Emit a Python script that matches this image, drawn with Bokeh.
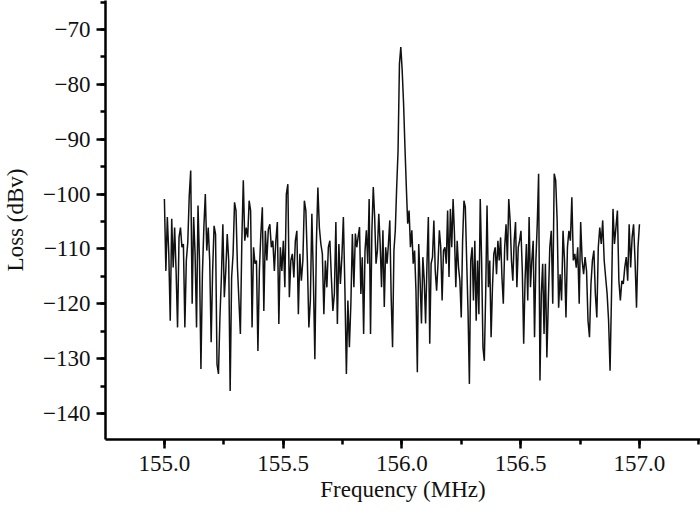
import numpy as np
from bokeh.plotting import figure
from bokeh.models import Range1d, SingleIntervalTicker, CustomJSTickFormatter, ColumnDataSource
from bokeh.embed import file_html
from bokeh.resources import INLINE

# Segment edges (MHz) of the read-off pieces of the trace
segment_edges_mhz = [155.0, 155.406, 155.804, 156.204, 156.604, 157.0]

# Loss values (dBV), piece by piece
loss_seg1 = [-100.9, -114.0, -104.2, -110.9, -123.1, -104.5, -113.4, -106.1, -114.0, -124.3,
             -107.9, -106.1, -109.7, -109.1, -124.3, -112.1, -108.8, -100.3, -95.7, -120.0,
             -104.2, -110.9, -124.3, -102.1, -112.1, -131.9, -114.6, -106.1, -100.0, -110.3,
             -106.1, -112.1, -127.0, -114.0, -105.8, -107.3, -131.0, -132.8, -122.5, -115.2,
             -105.5, -118.8, -114.0, -107.3, -112.1, -135.9, -115.2, -110.9, -101.5, -103.0,
             -113.4, -119.4, -125.5, -108.5, -97.5, -108.5, -106.1, -107.9, -101.2, -103.0,
             -124.3, -109.7, -112.7, -112.1, -128.6, -114.0]
loss_seg2 = [-107.3, -102.4, -121.3, -106.7, -112.1, -106.4, -105.5, -109.7, -108.5, -114.0,
             -108.5, -105.1, -123.7, -109.7, -114.0, -108.5, -117.0, -100.0, -98.2, -118.8,
             -112.1, -110.9, -115.2, -108.5, -106.7, -121.9, -110.9, -115.8, -112.1, -101.2,
             -103.0, -112.1, -124.3, -119.4, -103.6, -115.2, -130.1, -109.1, -98.8, -106.1,
             -109.1, -110.9, -121.9, -112.1, -117.0, -109.7, -108.5, -115.2, -121.3, -118.2,
             -105.1, -123.7, -109.1, -116.4, -111.5, -104.2, -117.0, -132.8, -119.4, -127.9,
             -120.0, -107.3, -117.0]
loss_seg3 = [-107.2, -109.7, -107.8, -106.0, -118.2, -111.5, -125.5, -110.3, -106.6, -112.7,
             -100.9, -125.5, -106.6, -98.7, -104.2, -112.7, -110.3, -103.6, -109.1, -117.0,
             -106.6, -120.6, -109.7, -112.7, -109.1, -104.8, -118.8, -127.9, -110.3, -106.6,
             -98.7, -92.1, -76.3, -73.2, -77.5, -83.5, -91.4, -98.7, -105.4, -103.0,
             -109.7, -106.6, -112.7, -110.3, -117.6, -132.5, -109.1, -115.7, -123.6, -111.5,
             -115.7, -123.6, -112.7, -104.2, -127.3, -112.7, -111.5, -104.8, -113.9, -117.6,
             -112.7, -106.6, -109.7, -119.4, -110.3, -109.7, -112.7, -103.0, -115.1]
loss_seg4 = [-102.7, -109.7, -100.9, -107.3, -117.0, -108.5, -113.4, -115.8, -122.5, -108.5,
             -101.2, -102.4, -112.1, -121.3, -134.6, -112.1, -109.7, -119.4, -108.5, -123.1,
             -112.1, -121.9, -100.9, -112.1, -127.9, -130.4, -118.2, -102.1, -117.0, -112.1,
             -126.1, -117.0, -110.9, -109.7, -114.6, -108.5, -112.1, -107.9, -115.2, -120.0,
             -109.7, -105.5, -112.1, -100.9, -104.8, -112.1, -115.8, -108.5, -105.1, -117.0,
             -109.7, -108.5, -106.7, -114.0, -127.3, -115.8, -109.1, -119.4, -104.2, -117.0,
             -112.1, -108.5, -126.1, -112.1, -105.5, -96.3, -134.0, -118.2, -112.7, -125.5]
loss_seg5 = [-112.7, -129.8, -119.4, -109.7, -106.7, -120.0, -96.3, -97.5, -104.8, -120.7,
             -114.6, -119.4, -106.7, -112.1, -122.5, -109.7, -106.7, -108.5, -100.6, -112.1,
             -110.9, -113.4, -109.7, -120.0, -105.1, -112.1, -114.6, -111.5, -114.0, -123.1,
             -126.1, -116.4, -112.1, -110.3, -118.2, -122.5, -109.7, -106.1, -109.1, -104.8,
             -112.1, -115.2, -118.2, -123.1, -132.2, -118.2, -102.7, -109.1, -106.1, -103.0,
             -115.8, -119.4, -115.8, -116.4, -113.4, -111.5, -115.8, -105.5, -113.4, -107.9,
             -105.5, -112.1, -120.7, -109.7, -105.5]

segments = [loss_seg1, loss_seg2, loss_seg3, loss_seg4, loss_seg5]

freq = []
loss = []
for i, seg in enumerate(segments):
    last = i == len(segments) - 1
    f = np.linspace(segment_edges_mhz[i], segment_edges_mhz[i + 1], len(seg), endpoint=last)
    freq.extend(f.tolist())
    loss.extend(seg)

src = ColumnDataSource(data=dict(freq=freq, loss=loss))

FONT = "Liberation Serif"

p = figure(width=700, height=515, output_backend="svg", toolbar_location=None,
           x_range=Range1d(154.752, 157.257), y_range=Range1d(-144.74, -64.71),
           min_border_left=105, min_border_right=0, min_border_top=0, min_border_bottom=76)
p.outline_line_color = None
p.grid.visible = False
p.background_fill_color = "white"
p.border_fill_color = "white"

p.line("freq", "loss", source=src, line_color="#111111", line_width=1.5)

p.xaxis.ticker = SingleIntervalTicker(interval=0.5, num_minor_ticks=2)
p.yaxis.ticker = SingleIntervalTicker(interval=10, num_minor_ticks=2)
p.xaxis.formatter = CustomJSTickFormatter(code="return tick.toFixed(1);")
p.yaxis.formatter = CustomJSTickFormatter(code="return tick.toFixed(0).replace('-', '\u2212');")

for ax in (p.xaxis[0], p.yaxis[0]):
    ax.axis_line_width = 2.5
    ax.axis_line_color = "black"
    ax.major_tick_line_width = 2.5
    ax.minor_tick_line_width = 2.5
    ax.major_tick_line_color = "black"
    ax.minor_tick_line_color = "black"
    ax.major_tick_in = 0
    ax.major_tick_out = 9
    ax.minor_tick_in = 0
    ax.minor_tick_out = 5
    ax.major_label_text_font = FONT
    ax.major_label_text_font_size = "23px"
    ax.major_label_text_color = "#111111"
    ax.axis_label_text_font = FONT
    ax.axis_label_text_font_size = "23px"
    ax.axis_label_text_font_style = "normal"
    ax.axis_label_text_color = "#111111"

p.xaxis.axis_label = "Frequency (MHz)"
p.yaxis.axis_label = "Loss (dBv)"
p.xaxis.major_label_standoff = 7
p.xaxis.axis_label_standoff = 3
p.yaxis.major_label_standoff = 6
p.yaxis.axis_label_standoff = 12

open("out.html", "w").write(file_html(p, INLINE))
